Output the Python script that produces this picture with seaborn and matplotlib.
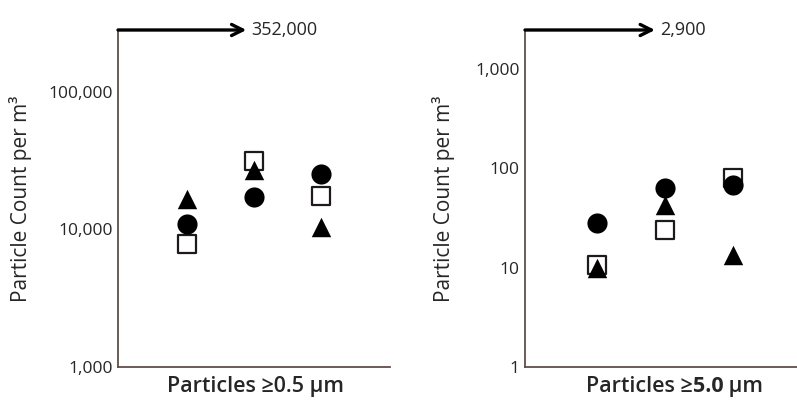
import matplotlib
matplotlib.use("Agg")
import matplotlib.pyplot as plt
import seaborn as sns
import pandas as pd
from matplotlib.offsetbox import TextArea, HPacker, AnnotationBbox
from matplotlib.ticker import FixedLocator, NullLocator

sns.set_theme(style="white")
plt.rcParams["font.family"] = ["Open Sans", "DejaVu Sans"]

# Measurement positions (three sampling points per panel)
positions = [0, 1, 2]

# Particles >= 0.5 um, counts per m^3
fine_circle = [11000, 17100, 25200]
fine_triangle = [16600, 27000, 10500]
fine_square = [7900, 31300, 17400]
fine_peak = "352,000"

# Particles >= 5.0 um, counts per m^3
coarse_circle = [28, 63, 68]
coarse_triangle = [10, 43, 13.5]
coarse_square = [10.5, 24, 80]
coarse_peak = "2,900"

fine_ticks = [1000, 10000, 100000]
fine_ticklabels = ["1,000", "10,000", "100,000"]
coarse_ticks = [1, 10, 100, 1000]
coarse_ticklabels = ["1", "10", "100", "1,000"]

SPINE = "#5e4f4a"
TEXT = "#262626"

fig = plt.figure(figsize=(7.97, 4.01), dpi=100)
ax1 = fig.add_axes([118 / 797, 1 - 367 / 401, 272 / 797, 337 / 401])
ax2 = fig.add_axes([525 / 797, 1 - 367 / 401, 272 / 797, 337 / 401])


def draw_panel(ax, circ, tri, sq, ylim, xlim, ticks, ticklabels):
    df = pd.DataFrame({"pos": positions, "circle": circ, "triangle": tri, "square": sq})
    sns.scatterplot(data=df, x="pos", y="square", marker="s", s=12.5 ** 2,
                    facecolor="white", edgecolor="#1e1a1a", linewidth=1.6,
                    ax=ax, legend=False, zorder=3)
    sns.scatterplot(data=df, x="pos", y="circle", marker="o", s=14.5 ** 2,
                    color="black", edgecolor="black", linewidth=0,
                    ax=ax, legend=False, zorder=4)
    sns.scatterplot(data=df, x="pos", y="triangle", marker="^", s=14 ** 2,
                    color="black", edgecolor="black", linewidth=0,
                    ax=ax, legend=False, zorder=5)
    ax.set_yscale("log")
    ax.set_ylim(*ylim)
    ax.set_xlim(*xlim)
    ax.yaxis.set_major_locator(FixedLocator(ticks))
    ax.set_yticklabels(ticklabels)
    ax.yaxis.set_minor_locator(NullLocator())
    ax.set_xticks([])
    ax.set_xlabel("")
    ax.tick_params(axis="y", length=0, pad=4, labelsize=12.5, labelcolor=TEXT)
    for side in ("top", "right"):
        ax.spines[side].set_visible(False)
    for side in ("left", "bottom"):
        ax.spines[side].set_color(SPINE)
        ax.spines[side].set_linewidth(1.3)
    ax.set_ylabel("Particle Count per m³", fontsize=15, color=TEXT, fontweight="medium")
    ax.patch.set_alpha(0)


draw_panel(ax1, fine_circle, fine_triangle, fine_square,
           (1000, 282000), (-1.03, 3.03), fine_ticks, fine_ticklabels)
draw_panel(ax2, coarse_circle, coarse_triangle, coarse_square,
           (1, 2450), (-1.06, 2.94), coarse_ticks, coarse_ticklabels)

ax1.yaxis.set_label_coords(-0.318, 0.5)
ax2.yaxis.set_label_coords(-0.258, 0.5)


def peak_arrow(ax, tip, label):
    ax.annotate("", xy=(tip, 1.0), xytext=(0.0, 1.0), xycoords="axes fraction",
                arrowprops=dict(arrowstyle="->", lw=2.4, color="black",
                                mutation_scale=20, shrinkA=0, shrinkB=0),
                annotation_clip=False)
    ax.text(tip + 0.018, 1.0, label, transform=ax.transAxes, ha="left",
            va="center", fontsize=13, color=TEXT, clip_on=False)


peak_arrow(ax1, 0.472, fine_peak)
peak_arrow(ax2, 0.478, coarse_peak)


def size_label(ax, x, parts):
    boxes = [TextArea(t, textprops=dict(fontsize=15.5, fontweight=w, color=TEXT))
             for t, w in parts]
    pack = HPacker(children=boxes, align="baseline", pad=0, sep=0)
    ab = AnnotationBbox(pack, (x, -0.058), xycoords="axes fraction",
                        frameon=False, box_alignment=(0.5, 0.5),
                        annotation_clip=False)
    ax.add_artist(ab)


size_label(ax1, 0.507, [("Particles ≥0.5 µm", "semibold")])
size_label(ax2, 0.55, [("Particles ≥", "semibold"), ("5.0", "bold"), (" µm", "semibold")])

fig.savefig("out.png", dpi=100, facecolor="white")
